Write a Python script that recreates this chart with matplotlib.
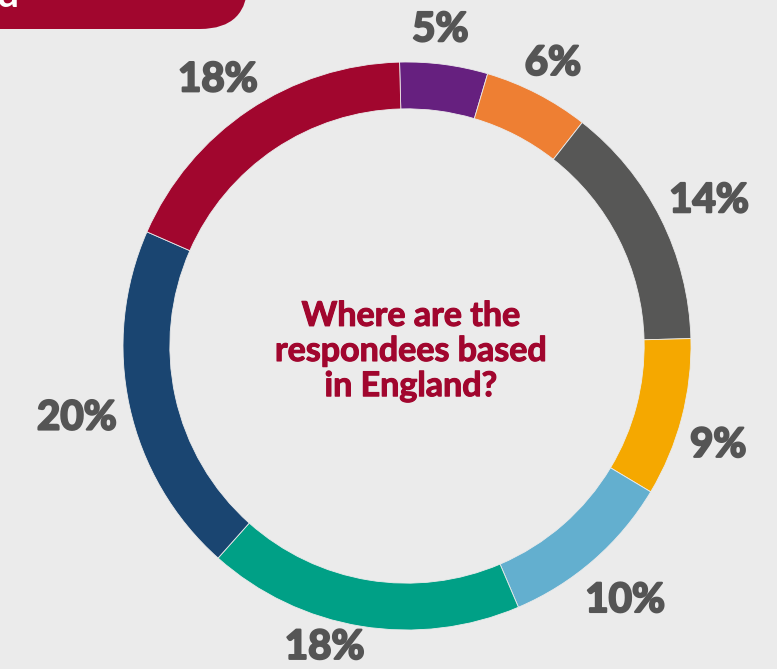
import numpy as np
import matplotlib.pyplot as plt
import matplotlib.patheffects as pe
from matplotlib.patches import FancyBboxPatch

plt.rcParams['font.family'] = ['Lato', 'DejaVu Sans']

# Regional split of respondents, clockwise from the top
regions = ['Purple', 'Orange', 'Grey', 'Yellow', 'Light blue', 'Teal', 'Navy', 'Crimson']
shares = [5, 6, 14, 9, 10, 18, 20, 18]
colours = ['#66207F', '#EE7F33', '#575756', '#F5A800', '#63AFCF',
           '#00A086', '#1A4571', '#A1062E']
title = 'Where are the\nrespondees based\nin England?'

# how far out each percentage sits, in ring radii
label_dist = [1.12, 1.12, 1.18, 1.15, 1.18, 1.10, 1.19, 1.15]
label_shift = [-1.5, 0, 1, 3, 0.5, 6, 0, -1.5]   # degrees, clockwise

bg = '#EBEBEB'
W, H = 777, 669

fig = plt.figure(figsize=(W / 100, H / 100), dpi=100, facecolor=bg)
ax = fig.add_axes([0, 0, 1, 1])
ax.set_facecolor(bg)

cx, cy, r = 407, H - 346, 284

wedges, _ = ax.pie(
    shares, colors=colours, center=(cx, cy), radius=r,
    startangle=91.5, counterclock=False,
    wedgeprops=dict(width=r * 0.165, edgecolor=bg, linewidth=0.6),
)
ax.set_xlim(0, W)
ax.set_ylim(0, H)
ax.set_aspect('equal')
ax.axis('off')

heavy = [pe.withStroke(linewidth=1.6, foreground='#555555')]
for w, s, d, sh in zip(wedges, shares, label_dist, label_shift):
    mid = np.deg2rad((w.theta1 + w.theta2) / 2 - sh)
    ax.text(cx + d * r * np.cos(mid), cy + d * r * np.sin(mid), f'{s}%',
            ha='center', va='center', color='#555555', fontsize=29,
            fontweight='bold', path_effects=heavy)

ax.text(cx + 4, cy - 5, title, ha='center', va='center', color='#A1062E',
        fontsize=24.5, fontweight='bold', linespacing=1.12,
        path_effects=[pe.withStroke(linewidth=0.8, foreground='#A1062E')])

# header banner clipped by the top edge
banner = FancyBboxPatch((-300, H - 29), 548, 400,
                        boxstyle='round,pad=0,rounding_size=48',
                        facecolor='#A1062E', edgecolor='none')
ax.add_patch(banner)
ax.text(-3, H - 7, 'd', color='white', fontsize=28, fontweight='bold',
        ha='left', va='baseline')

fig.savefig('out.png', dpi=100, facecolor=bg)
